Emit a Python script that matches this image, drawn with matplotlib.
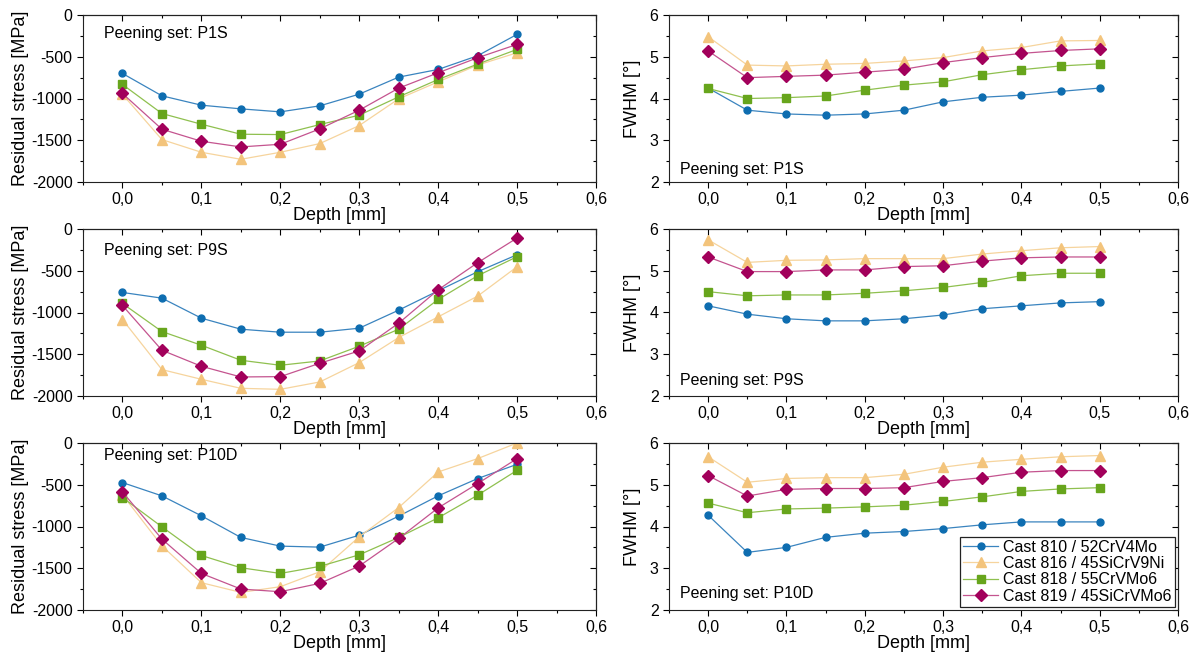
import numpy as np
import matplotlib
matplotlib.use("Agg")
import matplotlib.pyplot as plt
from matplotlib.ticker import MultipleLocator, FuncFormatter

plt.rcParams['font.family'] = ['Liberation Sans', 'DejaVu Sans']

depth = [0.0, 0.05, 0.1, 0.15, 0.2, 0.25, 0.3, 0.35, 0.4, 0.45, 0.5]

labels = ["Cast 810 / 52CrV4Mo", "Cast 816 / 45SiCrV9Ni",
          "Cast 818 / 55CrVMo6", "Cast 819 / 45SiCrVMo6"]
sets = ["P1S", "P9S", "P10D"]

# residual stress [MPa], per peening set, order: 810, 816, 818, 819
stress_p1s = [
    [-700, -968, -1080, -1124, -1160, -1088, -948, -744, -652, -488, -232],
    [-950, -1492, -1644, -1728, -1644, -1540, -1324, -1004, -800, -600, -452],
    [-832, -1180, -1308, -1428, -1432, -1312, -1200, -980, -772, -588, -412],
    [-940, -1368, -1512, -1580, -1548, -1364, -1140, -876, -692, -512, -352],
]
stress_p9s = [
    [-760, -828, -1068, -1200, -1236, -1236, -1188, -972, -740, -512, -308],
    [-1084, -1684, -1800, -1908, -1920, -1832, -1600, -1300, -1052, -804, -452],
    [-892, -1228, -1392, -1572, -1632, -1580, -1404, -1200, -844, -560, -332],
    [-916, -1452, -1644, -1772, -1768, -1608, -1460, -1128, -728, -404, -108],
]
stress_p10d = [
    [-474, -633, -872, -1131, -1235, -1247, -1104, -876, -633, -426, -255],
    [-620, -1231, -1673, -1789, -1721, -1542, -1123, -773, -347, -187, 0],
    [-653, -1004, -1347, -1494, -1562, -1478, -1339, -1131, -896, -625, -327],
    [-586, -1151, -1562, -1749, -1781, -1681, -1474, -1143, -777, -486, -187],
]

# FWHM [deg]
fwhm_p1s = [
    [4.25, 3.72, 3.63, 3.60, 3.63, 3.72, 3.92, 4.03, 4.08, 4.17, 4.25],
    [5.48, 4.80, 4.78, 4.82, 4.84, 4.90, 4.98, 5.14, 5.22, 5.38, 5.39],
    [4.24, 4.00, 4.02, 4.06, 4.20, 4.32, 4.40, 4.57, 4.69, 4.78, 4.83],
    [5.14, 4.50, 4.53, 4.56, 4.63, 4.70, 4.86, 4.98, 5.08, 5.15, 5.19],
]
fwhm_p9s = [
    [4.16, 3.96, 3.85, 3.80, 3.80, 3.85, 3.94, 4.09, 4.16, 4.23, 4.26],
    [5.74, 5.20, 5.25, 5.26, 5.29, 5.29, 5.29, 5.40, 5.48, 5.55, 5.58],
    [4.50, 4.40, 4.42, 4.42, 4.46, 4.52, 4.60, 4.72, 4.88, 4.94, 4.94],
    [5.33, 4.98, 4.98, 5.02, 5.02, 5.10, 5.12, 5.23, 5.31, 5.33, 5.33],
]
fwhm_p10d = [
    [4.27, 3.38, 3.50, 3.74, 3.84, 3.88, 3.95, 4.04, 4.11, 4.11, 4.11],
    [5.67, 5.06, 5.15, 5.17, 5.17, 5.25, 5.42, 5.54, 5.61, 5.67, 5.70],
    [4.56, 4.33, 4.42, 4.44, 4.47, 4.51, 4.60, 4.71, 4.84, 4.90, 4.93],
    [5.22, 4.73, 4.89, 4.91, 4.91, 4.93, 5.08, 5.17, 5.30, 5.34, 5.34],
]

stress = [stress_p1s, stress_p9s, stress_p10d]
fwhm = [fwhm_p1s, fwhm_p9s, fwhm_p10d]

colors = ['#0e6db0', '#f3c47c', '#67a51c', '#a2005b']
line_colors = ['#3a84bf', '#f6d49d', '#8fc04f', '#c4548f']
markers = ['o', '^', 's', 'D']
msizes = [5.0, 7.5, 5.3, 6.2]

stress_txt_y = [0.89, 0.87, 0.925]
fwhm_txt_y = [0.075, 0.095, 0.1]

comma = FuncFormatter(lambda v, p: f"{v:.1f}".replace('.', ','))

W, H = 1200, 661
fig = plt.figure(figsize=(12, 6.61), dpi=100)
rows_px = [(15, 182), (229, 396), (443, 610)]
left_px = (83, 596)
right_px = (669, 1178)


def box(xs, ys):
    return [xs[0] / W, 1 - ys[1] / H, (xs[1] - xs[0]) / W, (ys[1] - ys[0]) / H]


def style_axes(ax):
    ax.set_xlim(-0.05, 0.6)
    ax.xaxis.set_major_locator(MultipleLocator(0.1))
    ax.xaxis.set_minor_locator(MultipleLocator(0.05))
    ax.xaxis.set_major_formatter(comma)
    ax.tick_params(axis='both', which='major', direction='out', length=4.5,
                   labelsize=11.5, width=0.8, pad=3)
    ax.tick_params(axis='both', which='minor', direction='out', length=2.5, width=0.8)
    ax.set_xlabel("Depth [mm]", fontsize=13, labelpad=0)
    for s in ax.spines.values():
        s.set_linewidth(0.8)
        s.set_color('#222222')
    # inward ticks on the top and right spines
    sec_x = ax.secondary_xaxis('top')
    sec_x.xaxis.set_major_locator(MultipleLocator(0.1))
    sec_x.xaxis.set_minor_locator(MultipleLocator(0.05))
    sec_x.tick_params(which='major', direction='in', length=4, width=0.8, labeltop=False)
    sec_x.tick_params(which='minor', direction='in', length=2.5, width=0.8)
    sec_x.spines['top'].set_linewidth(0.8)
    return sec_x


for r in range(3):
    ax = fig.add_axes(box(left_px, rows_px[r]))
    for i in range(4):
        ax.plot(depth, stress[r][i], color=line_colors[i], lw=0.9,
                marker=markers[i], ms=msizes[i], mfc=colors[i], mec=colors[i],
                label=labels[i])
    style_axes(ax)
    ax.set_ylim(-2000, 0)
    ax.yaxis.set_major_locator(MultipleLocator(500))
    ax.yaxis.set_minor_locator(MultipleLocator(250))
    ax.yaxis.set_major_formatter(FuncFormatter(lambda v, p: f"{v:.0f}"))
    ax.set_ylabel("Residual stress [MPa]", fontsize=13, labelpad=2)
    ax.text(0.04, stress_txt_y[r], "Peening set: " + sets[r], transform=ax.transAxes,
            fontsize=11.5, va='center')
    sec_y = ax.secondary_yaxis('right')
    sec_y.yaxis.set_major_locator(MultipleLocator(500))
    sec_y.yaxis.set_minor_locator(MultipleLocator(250))
    sec_y.tick_params(which='major', direction='in', length=4, width=0.8, labelright=False)
    sec_y.tick_params(which='minor', direction='in', length=2.5, width=0.8)

    ax2 = fig.add_axes(box(right_px, rows_px[r]))
    for i in range(4):
        ax2.plot(depth, fwhm[r][i], color=line_colors[i], lw=0.9,
                 marker=markers[i], ms=msizes[i], mfc=colors[i], mec=colors[i],
                 label=labels[i])
    style_axes(ax2)
    ax2.set_ylim(2, 6)
    ax2.yaxis.set_major_locator(MultipleLocator(1))
    ax2.yaxis.set_minor_locator(MultipleLocator(0.5))
    ax2.yaxis.set_major_formatter(FuncFormatter(lambda v, p: f"{v:.0f}"))
    ax2.set_ylabel("FWHM [°]", fontsize=13, labelpad=6)
    ax2.text(0.022, fwhm_txt_y[r], "Peening set: " + sets[r], transform=ax2.transAxes,
             fontsize=11.5, va='center')
    sec_y2 = ax2.secondary_yaxis('right')
    sec_y2.yaxis.set_major_locator(MultipleLocator(1))
    sec_y2.yaxis.set_minor_locator(MultipleLocator(0.5))
    sec_y2.tick_params(which='major', direction='in', length=4, width=0.8, labelright=False)
    sec_y2.tick_params(which='minor', direction='in', length=2.5, width=0.8)
    if r == 2:
        leg = ax2.legend(loc='lower right', fontsize=11.5, frameon=True,
                         fancybox=False, edgecolor='#222222', borderaxespad=0.2,
                         handlelength=2.2, labelspacing=0.08, borderpad=0.2,
                         handletextpad=0.3, framealpha=1)
        leg.get_frame().set_linewidth(0.9)

fig.savefig("out.png", dpi=100)
